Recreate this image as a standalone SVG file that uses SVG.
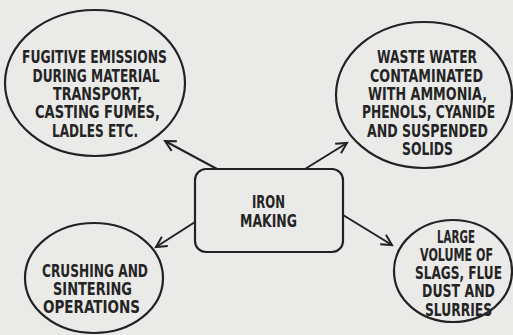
<svg xmlns="http://www.w3.org/2000/svg" width="513" height="335" viewBox="0 0 513 335">
<style>
.bg{fill:#eaeae8}
.node{fill:none;stroke:#222;stroke-width:2.2}
.t{font-family:"Liberation Sans Narrow","DejaVu Sans Condensed","Liberation Sans",sans-serif;font-stretch:condensed;font-weight:bold;font-size:18px;fill:#242424;text-anchor:middle}
.tb{font-size:17px}
.conn{stroke:#222;stroke-width:2;fill:none}
</style>
<defs>
<marker id="arr" markerUnits="userSpaceOnUse" viewBox="0 0 14 14" markerWidth="14" markerHeight="14" refX="12" refY="7" orient="auto" overflow="visible">
<path d="M1.5,1.5 L12,7 L1.5,12.5" fill="none" stroke="#222" stroke-width="2"/>
</marker>
</defs>
<rect class="bg" x="0" y="0" width="513" height="335"/>
<g id="connectors">
<line class="conn" x1="217" y1="169" x2="165" y2="141" marker-end="url(#arr)"/>
<line class="conn" x1="305" y1="169" x2="347" y2="143" marker-end="url(#arr)"/>
<line class="conn" x1="195" y1="222" x2="156" y2="247" marker-end="url(#arr)"/>
<line class="conn" x1="343" y1="215" x2="392" y2="245" marker-end="url(#arr)"/>
</g>
<g id="iron-making">
<rect class="node" x="195" y="169" width="148" height="83" rx="11"/>
<text class="t tb" x="268.5" y="208" textLength="33" lengthAdjust="spacingAndGlyphs">IRON</text>
<text class="t tb" x="268.5" y="227" textLength="57" lengthAdjust="spacingAndGlyphs">MAKING</text>
</g>
<g id="fugitive-emissions">
<ellipse class="node" cx="95" cy="83" rx="90" ry="73"/>
<text class="t" x="94.5" y="63" textLength="145" lengthAdjust="spacingAndGlyphs">FUGITIVE EMISSIONS</text>
<text class="t" x="96" y="81.5" textLength="127" lengthAdjust="spacingAndGlyphs">DURING MATERIAL</text>
<text class="t" x="97.5" y="100" textLength="89" lengthAdjust="spacingAndGlyphs">TRANSPORT,</text>
<text class="t" x="97.5" y="118" textLength="125" lengthAdjust="spacingAndGlyphs">CASTING FUMES,</text>
<text class="t" x="95" y="136.5" textLength="86" lengthAdjust="spacingAndGlyphs">LADLES ETC.</text>
</g>
<g id="waste-water">
<ellipse class="node" cx="424" cy="95" rx="88" ry="73"/>
<text class="t" x="427" y="63" textLength="100" lengthAdjust="spacingAndGlyphs">WASTE WATER</text>
<text class="t" x="426.5" y="82" textLength="113" lengthAdjust="spacingAndGlyphs">CONTAMINATED</text>
<text class="t" x="427.5" y="100" textLength="119" lengthAdjust="spacingAndGlyphs">WITH AMMONIA,</text>
<text class="t" x="428.5" y="118" textLength="133" lengthAdjust="spacingAndGlyphs">PHENOLS, CYANIDE</text>
<text class="t" x="427.5" y="137" textLength="121" lengthAdjust="spacingAndGlyphs">AND SUSPENDED</text>
<text class="t" x="427.5" y="155" textLength="51" lengthAdjust="spacingAndGlyphs">SOLIDS</text>
</g>
<g id="crushing-sintering">
<ellipse class="node" cx="94" cy="278" rx="69" ry="55"/>
<text class="t" x="95" y="277" textLength="106" lengthAdjust="spacingAndGlyphs">CRUSHING AND</text>
<text class="t" x="92.5" y="295" textLength="79" lengthAdjust="spacingAndGlyphs">SINTERING</text>
<text class="t" x="91.5" y="313" textLength="97" lengthAdjust="spacingAndGlyphs">OPERATIONS</text>
</g>
<g id="slags-dust">
<ellipse class="node" cx="453" cy="271" rx="59" ry="51"/>
<text class="t" x="456" y="243" textLength="38" lengthAdjust="spacingAndGlyphs">LARGE</text>
<text class="t" x="456.5" y="261" textLength="73" lengthAdjust="spacingAndGlyphs">VOLUME OF</text>
<text class="t" x="458.5" y="279" textLength="87" lengthAdjust="spacingAndGlyphs">SLAGS, FLUE</text>
<text class="t" x="458.5" y="297" textLength="73" lengthAdjust="spacingAndGlyphs">DUST AND</text>
<text class="t" x="458.5" y="315.5" textLength="67" lengthAdjust="spacingAndGlyphs">SLURRIES</text>
</g>
</svg>
